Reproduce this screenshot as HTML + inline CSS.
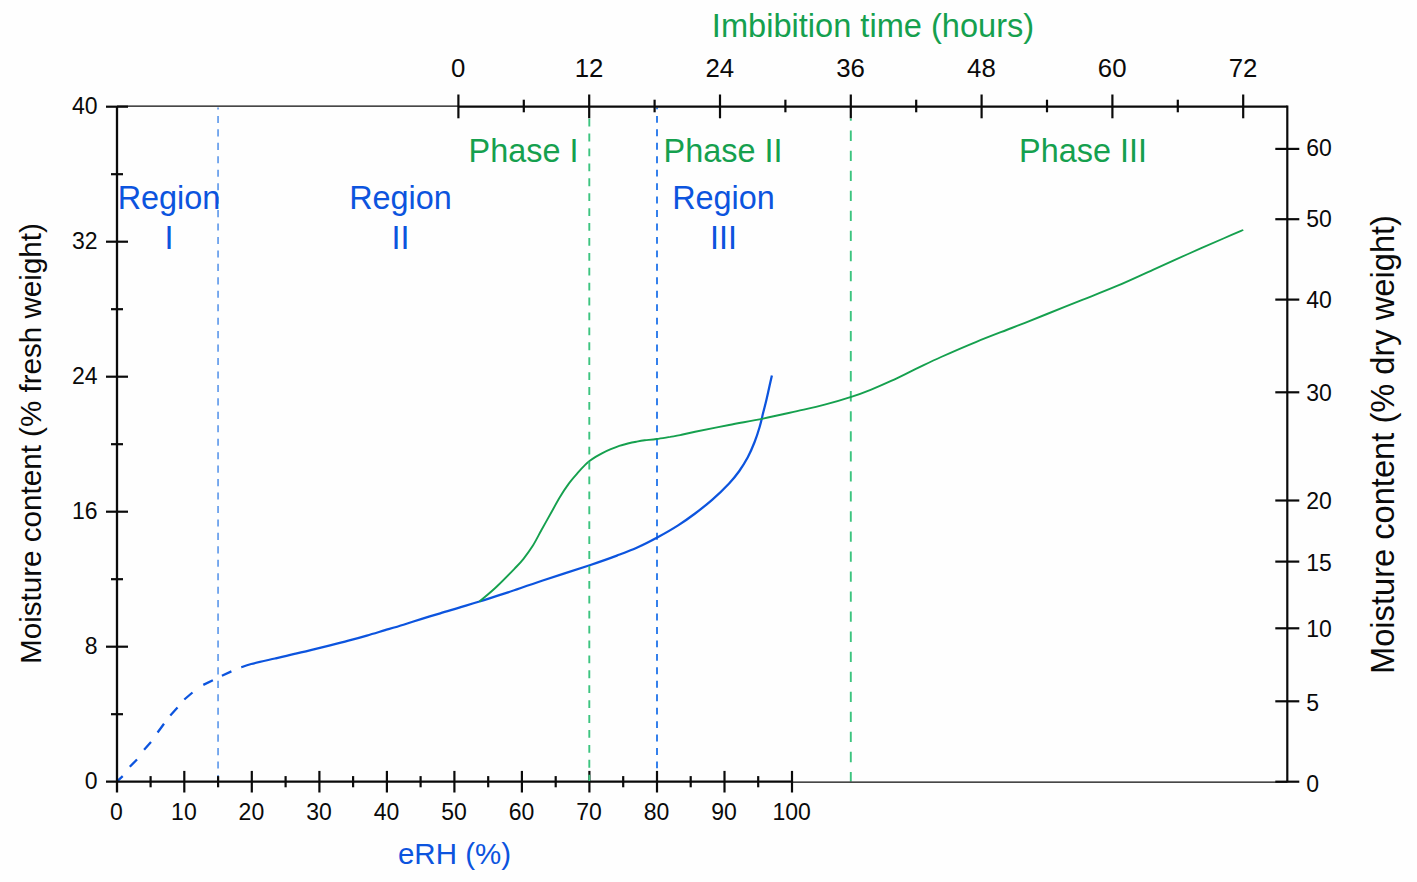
<!DOCTYPE html>
<html lang="en"><head><meta charset="utf-8"><title>Moisture sorption and imbibition</title>
<style>html,body{margin:0;padding:0;background:#fefefe;}svg{display:block;}text{font-family:"Liberation Sans", Arial, sans-serif;}</style>
</head><body>
<svg width="1417" height="882" viewBox="0 0 1417 882">
<rect x="0" y="0" width="1417" height="882" fill="#fefefe"/>
<g fill="none">
<line x1="218.05" y1="107.4" x2="218.05" y2="776.6" stroke="#5a96ea" stroke-width="1.6" stroke-dasharray="7.1 6.35" stroke-dashoffset="4.95"/>
<line x1="657" y1="107.4" x2="657" y2="768.3" stroke="#3480ec" stroke-width="2" stroke-dasharray="6.9 6.55" stroke-dashoffset="4.95"/>
<line x1="850.8" y1="118.5" x2="850.8" y2="781.5" stroke="#3cc47f" stroke-width="1.9" stroke-dasharray="10.3 9.74" stroke-dashoffset="7.94"/>
</g>
<path d="M117.1 781.4L122.7 776.2 M129.8 766.7L137 759.5 M144.1 749.7L151 742.1 M157.6 732.5L164 723.8 M170.3 715.4L177.5 707.5 M184.3 699.5L192.5 692.5 M203.3 684.9L212.9 680.2 M221.9 675.7L231.4 671.4" fill="none" stroke="#0c54de" stroke-width="2.3"/>
<path d="M241.3 667.4C243.0 666.8 245.6 665.5 251.2 664.0C256.8 662.5 268.0 660.1 275.0 658.5C282.0 656.9 287.3 655.7 293.4 654.2C299.5 652.8 305.6 651.3 311.7 649.8C317.8 648.3 324.0 646.8 330.1 645.3C336.2 643.8 342.3 642.3 348.4 640.7C354.5 639.1 360.7 637.4 366.8 635.6C372.9 633.9 379.0 632.0 385.1 630.2C391.2 628.4 397.4 626.6 403.5 624.7C409.6 622.8 415.7 620.8 421.8 618.9C427.9 617.0 434.1 615.1 440.2 613.3C446.3 611.4 451.9 609.8 458.5 607.8C465.1 605.8 471.2 604.1 479.5 601.5C487.8 598.9 497.6 595.9 508.0 592.4C518.4 588.9 528.4 585.3 542.0 580.8C555.6 576.3 577.2 569.4 589.7 565.2C602.2 561.0 609.0 558.6 616.9 555.6C624.8 552.6 630.5 550.5 637.3 547.5C644.1 544.5 650.9 541.0 657.7 537.3C664.5 533.6 671.9 529.4 678.1 525.4C684.3 521.4 689.4 517.8 695.1 513.5C700.8 509.2 706.4 504.9 712.1 499.9C717.8 494.9 724.6 488.3 729.1 483.5C733.6 478.7 736.2 475.4 739.3 471.0C742.4 466.6 745.2 462.1 747.8 457.3C750.3 452.5 752.6 447.1 754.6 442.0C756.6 436.9 758.3 431.5 759.7 426.7C761.1 421.9 762.0 417.6 763.1 413.1C764.2 408.6 765.4 404.3 766.5 399.5C767.6 394.7 769.0 388.2 769.9 384.2C770.8 380.2 771.6 376.9 771.9 375.5" fill="none" stroke="#0c54de" stroke-width="2.25" stroke-linejoin="round"/>
<path d="M479.5 601.5C482.3 599.1 490.5 592.5 496.3 587.0C502.1 581.5 509.9 573.5 514.4 568.8C518.9 564.1 520.5 562.6 523.5 558.8C526.5 555.0 529.6 550.9 532.6 546.1C535.6 541.3 538.6 535.2 541.6 529.8C544.6 524.4 547.7 518.9 550.7 513.5C553.7 508.1 556.8 502.2 559.8 497.2C562.8 492.2 565.8 487.7 568.8 483.6C571.8 479.5 575.1 475.9 577.9 472.7C580.7 469.5 583.5 466.6 585.4 464.7C587.3 462.8 587.8 462.4 589.5 461.1C591.2 459.8 593.5 458.2 595.6 456.9C597.8 455.6 599.9 454.4 602.4 453.1C604.9 451.8 608.0 450.4 610.8 449.2C613.6 448.0 616.5 446.8 619.3 445.8C622.1 444.9 625.0 444.2 627.8 443.5C630.6 442.8 633.5 442.2 636.3 441.7C639.1 441.2 641.3 440.8 644.7 440.3C648.1 439.9 652.4 439.6 656.6 439.0C660.9 438.4 666.3 437.5 670.2 436.9C674.1 436.2 676.0 436.0 680.1 435.1C684.2 434.2 686.9 433.5 695.1 431.8C703.3 430.1 717.8 427.2 729.1 425.0C740.4 422.8 751.8 420.9 763.1 418.6C774.4 416.3 786.8 413.4 797.1 411.1C807.4 408.8 815.7 407.1 824.7 404.7C833.7 402.3 843.6 399.4 851.2 396.9C858.9 394.4 863.9 392.5 870.6 389.8C877.4 387.1 884.1 384.2 891.7 380.7C899.3 377.2 908.2 372.6 916.4 368.7C924.6 364.8 931.1 361.5 941.1 357.0C951.1 352.5 964.6 346.6 976.4 341.8C988.2 337.0 999.9 332.6 1011.7 328.0C1023.5 323.4 1035.2 318.7 1047.0 314.0C1058.8 309.3 1070.5 304.6 1082.3 299.9C1094.1 295.2 1105.8 290.7 1117.6 285.7C1129.4 280.7 1141.2 275.1 1152.9 269.8C1164.7 264.5 1176.3 259.2 1188.1 254.0C1199.8 248.8 1214.2 242.5 1223.4 238.5C1232.6 234.5 1240.0 231.4 1243.3 230.0" fill="none" stroke="#15a04e" stroke-width="1.9" stroke-linejoin="round"/>
<g stroke="#0a0a0a" fill="none">
<line x1="117.0" y1="106.2" x2="458.4" y2="106.2" stroke-width="1.3"/>
<line x1="792.0" y1="782.1" x2="1287.3" y2="782.1" stroke-width="1.3"/>
<line x1="117.0" y1="106.7" x2="117.0" y2="792.5" stroke-width="2.3"/>
<line x1="1287.3" y1="105.60000000000001" x2="1287.3" y2="782.3000000000001" stroke-width="2.2"/>
<line x1="458.4" y1="106.7" x2="1287.3" y2="106.7" stroke-width="2.2"/>
<line x1="106.0" y1="781.7" x2="792.0" y2="781.7" stroke-width="2.3"/>
<line x1="150.6" y1="776.1" x2="150.6" y2="787.3000000000001" stroke-width="2.2"/>
<line x1="184.3" y1="770.9000000000001" x2="184.3" y2="792.5" stroke-width="2.2"/>
<line x1="218.1" y1="776.1" x2="218.1" y2="787.3000000000001" stroke-width="2.2"/>
<line x1="251.8" y1="770.9000000000001" x2="251.8" y2="792.5" stroke-width="2.2"/>
<line x1="285.6" y1="776.1" x2="285.6" y2="787.3000000000001" stroke-width="2.2"/>
<line x1="319.4" y1="770.9000000000001" x2="319.4" y2="792.5" stroke-width="2.2"/>
<line x1="353.1" y1="776.1" x2="353.1" y2="787.3000000000001" stroke-width="2.2"/>
<line x1="386.9" y1="770.9000000000001" x2="386.9" y2="792.5" stroke-width="2.2"/>
<line x1="420.6" y1="776.1" x2="420.6" y2="787.3000000000001" stroke-width="2.2"/>
<line x1="454.4" y1="770.9000000000001" x2="454.4" y2="792.5" stroke-width="2.2"/>
<line x1="488.2" y1="776.1" x2="488.2" y2="787.3000000000001" stroke-width="2.2"/>
<line x1="521.9" y1="770.9000000000001" x2="521.9" y2="792.5" stroke-width="2.2"/>
<line x1="555.7" y1="776.1" x2="555.7" y2="787.3000000000001" stroke-width="2.2"/>
<line x1="589.4" y1="770.9000000000001" x2="589.4" y2="792.5" stroke-width="2.2"/>
<line x1="623.2" y1="776.1" x2="623.2" y2="787.3000000000001" stroke-width="2.2"/>
<line x1="657.0" y1="770.9000000000001" x2="657.0" y2="792.5" stroke-width="2.2"/>
<line x1="690.7" y1="776.1" x2="690.7" y2="787.3000000000001" stroke-width="2.2"/>
<line x1="724.5" y1="770.9000000000001" x2="724.5" y2="792.5" stroke-width="2.2"/>
<line x1="758.2" y1="776.1" x2="758.2" y2="787.3000000000001" stroke-width="2.2"/>
<line x1="792.0" y1="770.9000000000001" x2="792.0" y2="792.5" stroke-width="2.2"/>
<line x1="458.4" y1="94.5" x2="458.4" y2="118.3" stroke-width="2.2"/>
<line x1="523.8" y1="99.7" x2="523.8" y2="112.3" stroke-width="2.2"/>
<line x1="589.2" y1="94.5" x2="589.2" y2="118.3" stroke-width="2.2"/>
<line x1="654.6" y1="99.7" x2="654.6" y2="112.3" stroke-width="2.2"/>
<line x1="720.0" y1="94.5" x2="720.0" y2="118.3" stroke-width="2.2"/>
<line x1="785.4" y1="99.7" x2="785.4" y2="112.3" stroke-width="2.2"/>
<line x1="850.8" y1="94.5" x2="850.8" y2="118.3" stroke-width="2.2"/>
<line x1="916.2" y1="99.7" x2="916.2" y2="112.3" stroke-width="2.2"/>
<line x1="981.6" y1="94.5" x2="981.6" y2="118.3" stroke-width="2.2"/>
<line x1="1047.0" y1="99.7" x2="1047.0" y2="112.3" stroke-width="2.2"/>
<line x1="1112.4" y1="94.5" x2="1112.4" y2="118.3" stroke-width="2.2"/>
<line x1="1177.8" y1="99.7" x2="1177.8" y2="112.3" stroke-width="2.2"/>
<line x1="1243.2" y1="94.5" x2="1243.2" y2="118.3" stroke-width="2.2"/>
<line x1="111.0" y1="714.2" x2="123.0" y2="714.2" stroke-width="2.2"/>
<line x1="106.0" y1="646.7" x2="128.0" y2="646.7" stroke-width="2.2"/>
<line x1="111.0" y1="579.2" x2="123.0" y2="579.2" stroke-width="2.2"/>
<line x1="106.0" y1="511.7" x2="128.0" y2="511.7" stroke-width="2.2"/>
<line x1="111.0" y1="444.2" x2="123.0" y2="444.2" stroke-width="2.2"/>
<line x1="106.0" y1="376.7" x2="128.0" y2="376.7" stroke-width="2.2"/>
<line x1="111.0" y1="309.2" x2="123.0" y2="309.2" stroke-width="2.2"/>
<line x1="106.0" y1="241.7" x2="128.0" y2="241.7" stroke-width="2.2"/>
<line x1="111.0" y1="174.2" x2="123.0" y2="174.2" stroke-width="2.2"/>
<line x1="106.0" y1="106.7" x2="128.0" y2="106.7" stroke-width="2.2"/>
<line x1="1275.3" y1="781.7" x2="1299.3" y2="781.7" stroke-width="2.2"/>
<line x1="1275.3" y1="701.3" x2="1299.3" y2="701.3" stroke-width="2.2"/>
<line x1="1275.3" y1="628.3" x2="1299.3" y2="628.3" stroke-width="2.2"/>
<line x1="1275.3" y1="561.6" x2="1299.3" y2="561.6" stroke-width="2.2"/>
<line x1="1275.3" y1="500.5" x2="1299.3" y2="500.5" stroke-width="2.2"/>
<line x1="1275.3" y1="392.3" x2="1299.3" y2="392.3" stroke-width="2.2"/>
<line x1="1275.3" y1="299.6" x2="1299.3" y2="299.6" stroke-width="2.2"/>
<line x1="1275.3" y1="219.2" x2="1299.3" y2="219.2" stroke-width="2.2"/>
<line x1="1275.3" y1="148.9" x2="1299.3" y2="148.9" stroke-width="2.2"/>
</g>
<line x1="589.3" y1="118.7" x2="589.3" y2="780.9" stroke="#3cc47f" stroke-width="1.9" stroke-dasharray="7.8 7.11"/>
<g font-size="23" fill="#0a0a0a">
<text x="116.4" y="819.5" text-anchor="middle">0</text>
<text x="183.9" y="819.5" text-anchor="middle">10</text>
<text x="251.4" y="819.5" text-anchor="middle">20</text>
<text x="319.0" y="819.5" text-anchor="middle">30</text>
<text x="386.5" y="819.5" text-anchor="middle">40</text>
<text x="454.0" y="819.5" text-anchor="middle">50</text>
<text x="521.5" y="819.5" text-anchor="middle">60</text>
<text x="589.0" y="819.5" text-anchor="middle">70</text>
<text x="656.6" y="819.5" text-anchor="middle">80</text>
<text x="724.1" y="819.5" text-anchor="middle">90</text>
<text x="791.6" y="819.5" text-anchor="middle">100</text>
<text x="458.2" y="77.2" font-size="25.8" text-anchor="middle">0</text>
<text x="589.0" y="77.2" font-size="25.8" text-anchor="middle">12</text>
<text x="719.8" y="77.2" font-size="25.8" text-anchor="middle">24</text>
<text x="850.6" y="77.2" font-size="25.8" text-anchor="middle">36</text>
<text x="981.4" y="77.2" font-size="25.8" text-anchor="middle">48</text>
<text x="1112.2" y="77.2" font-size="25.8" text-anchor="middle">60</text>
<text x="1243.0" y="77.2" font-size="25.8" text-anchor="middle">72</text>
<text x="97.5" y="788.6" text-anchor="end">0</text>
<text x="97.5" y="653.6" text-anchor="end">8</text>
<text x="97.5" y="518.6" text-anchor="end">16</text>
<text x="97.5" y="383.6" text-anchor="end">24</text>
<text x="97.5" y="248.6" text-anchor="end">32</text>
<text x="97.5" y="113.6" text-anchor="end">40</text>
<text x="1306.3" y="792.0">0</text>
<text x="1306.3" y="710.5">5</text>
<text x="1306.3" y="636.6">10</text>
<text x="1306.3" y="571.0">15</text>
<text x="1306.3" y="509.2">20</text>
<text x="1306.3" y="401.0">30</text>
<text x="1306.3" y="308.3">40</text>
<text x="1306.3" y="227.2">50</text>
<text x="1306.3" y="155.6">60</text>
</g>
<text x="873" y="36.7" font-size="32.6" fill="#15a04e" text-anchor="middle">Imbibition time (hours)</text>
<text x="454.5" y="863.6" font-size="29.5" fill="#0c54de" text-anchor="middle">eRH (%)</text>
<text transform="translate(41 443.5) rotate(-90)" font-size="29.6" fill="#0a0a0a" text-anchor="middle">Moisture content (% fresh weight)</text>
<text transform="translate(1394.1 444.5) rotate(-90)" font-size="32.65" fill="#0a0a0a" text-anchor="middle">Moisture content (% dry weight)</text>
<g font-size="32.4" fill="#15a04e" text-anchor="middle">
<text x="523.5" y="161.7">Phase I</text>
<text x="723" y="161.7">Phase II</text>
<text x="1083" y="161.7">Phase III</text>
</g>
<g font-size="32.4" fill="#0c54de" text-anchor="middle">
<text x="169" y="209">Region</text><text x="169" y="249">I</text>
<text x="400.5" y="209">Region</text><text x="400.5" y="249">II</text>
<text x="723.5" y="209">Region</text><text x="723.5" y="249">III</text>
</g>
</svg></body></html>
